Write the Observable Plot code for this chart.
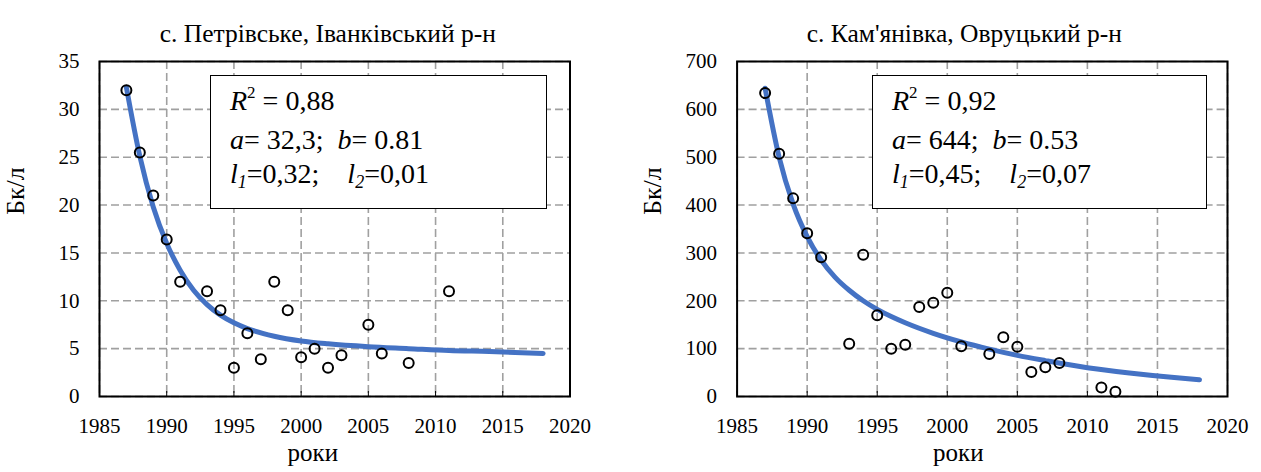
<!DOCTYPE html>
<html>
<head>
<meta charset="utf-8">
<script src="https://cdn.jsdelivr.net/npm/d3@7"></script>
<script src="https://cdn.jsdelivr.net/npm/@observablehq/plot@0.6"></script>
<style>
  html, body { margin: 0; padding: 0; background: #fff; }
  #wrap { position: relative; width: 1261px; height: 472px; overflow: hidden; font-family: "Liberation Serif", "Times New Roman", serif; }
  .chart { position: absolute; top: 0; }
  .chart svg text { font-family: "Liberation Serif", "Times New Roman", serif; }
  .box { position: absolute; top: 75px; height: 134px; box-sizing: border-box; border: 1px solid #000; background: #fff;
         font-family: "Liberation Serif", "Times New Roman", serif; font-size: 28px; line-height: 34.5px; padding-top: 8px; padding-left: 19px; white-space: pre; color: #000; }
  .box i { font-style: italic; }
  .box sup { font-size: 17px; vertical-align: 0; position: relative; top: -12px; }
  .box sub { font-size: 18px; vertical-align: 0; position: relative; top: 5px; font-style: italic; }
</style>
</head>
<body>
<div id="wrap"></div>
<script>
// ---------- data ----------
const xTicks = [1985, 1990, 1995, 2000, 2005, 2010, 2015, 2020];

const titleLeft = "с. Петрівське, Іванківський р-н";
const yTicksLeft = [0, 5, 10, 15, 20, 25, 30, 35];
const yearsLeft = [1987, 1988, 1989, 1990, 1991, 1993, 1994, 1995, 1996, 1997, 1998, 1999, 2000, 2001, 2002, 2003, 2005, 2006, 2008, 2011];
const valuesLeft = [32, 25.5, 21, 16.4, 12, 11, 9, 3, 6.6, 3.9, 12, 9, 4.1, 5, 3, 4.3, 7.5, 4.5, 3.5, 11];
const fitYearsLeft = [1987, 1988, 1989, 1990, 1991, 1992, 1993, 1994, 1995, 1996, 1998, 2000, 2002, 2005, 2008, 2011, 2014, 2018];
const fitValuesLeft = [32.3, 25.1, 19.8, 16.0, 13.2, 11.1, 9.6, 8.5, 7.7, 7.1, 6.3, 5.8, 5.5, 5.2, 5.0, 4.8, 4.7, 4.5];

const titleRight = "с. Кам'янівка, Овруцький р-н";
const yTicksRight = [0, 100, 200, 300, 400, 500, 600, 700];
const yearsRight = [1987, 1988, 1989, 1990, 1991, 1993, 1994, 1995, 1996, 1997, 1998, 1999, 2000, 2001, 2003, 2004, 2005, 2006, 2007, 2008, 2011, 2012];
const valuesRight = [634, 507, 414, 341, 291, 110, 296, 170, 100, 108, 187, 196, 217, 105, 89, 124, 104, 51, 61, 70, 19, 10];
const fitYearsRight = [1987, 1988, 1989, 1990, 1991, 1992, 1993, 1994, 1995, 1996, 1997, 1999, 2001, 2003, 2005, 2007, 2010, 2013, 2016, 2018];
const fitValuesRight = [644, 500, 402, 334, 285, 249, 222, 200, 182, 167, 154, 132, 114, 99, 86, 75, 60, 49, 40, 35];

const xLabel = "роки";
const yLabel = "Бк/л";
const boxLeft = { r2: "0,88", a: "32,3", b: "0.81", l1: "0,32", l2: "0,01" };
const boxRight = { r2: "0,92", a: "644", b: "0.53", l1: "0,45", l2: "0,07" };

// ---------- drawing ----------
const wrap = document.getElementById("wrap");

function makeChart({left, width, marginLeft, marginRight, title, titleDx, xLabelDx, yTicks, years, values, fitYears, fitValues, box, boxLeftPx, boxWidth}) {
  const pts = years.map((y, i) => ({year: y, v: values[i]}));
  const fit = fitYears.map((y, i) => ({year: y, v: fitValues[i]}));
  const chart = Plot.plot({
    width, height: 472,
    marginLeft, marginRight, marginTop: 61, marginBottom: 76,
    style: {fontFamily: "'Liberation Serif', 'Times New Roman', serif", fontSize: "21px", color: "#000", background: "#fff", overflow: "visible"},
    x: {domain: [1985, 2020]},
    y: {domain: [yTicks[0], yTicks[yTicks.length - 1]]},
    marks: [
      Plot.gridX(xTicks, {stroke: "#a0a0a0", strokeOpacity: 1, strokeWidth: 1.6, strokeDasharray: "8,4"}),
      Plot.gridY(yTicks, {stroke: "#a0a0a0", strokeOpacity: 1, strokeWidth: 1.6, strokeDasharray: "8,4"}),
      Plot.line(fit, {x: "year", y: "v", stroke: "#4472C4", strokeWidth: 5, curve: "monotone-x", strokeLinecap: "round"}),
      Plot.dot(pts, {x: "year", y: "v", r: 5, stroke: "#000", strokeWidth: 2, fill: "none"}),
      Plot.axisX({ticks: xTicks, tickSize: -5, tickPadding: 27, tickFormat: d => String(d), label: null, stroke: "#000"}),
      Plot.axisY({ticks: yTicks, tickSize: 0, tickPadding: 20, tickFormat: d => String(d), label: null}),
      Plot.frame({stroke: "#000", strokeWidth: 2}),
      Plot.text([title], {frameAnchor: "top", dy: -38, dx: titleDx, fontSize: 25.5, fill: "#000"}),
      Plot.text([xLabel], {frameAnchor: "bottom", dy: 64, dx: xLabelDx, fontSize: 25, fill: "#000"}),
      Plot.text([yLabel], {frameAnchor: "left", dx: -84, dy: -14, rotate: -90, fontSize: 26, fill: "#000"})
    ]
  });
  const holder = document.createElement("div");
  holder.className = "chart";
  holder.style.left = left + "px";
  holder.appendChild(chart);
  wrap.appendChild(holder);

  const b = document.createElement("div");
  b.className = "box";
  b.style.left = boxLeftPx + "px";
  b.style.width = boxWidth + "px";
  b.innerHTML =
    `<i>R</i><sup>2</sup> = ${box.r2}\n` +
    `<i>a</i>= ${box.a};  <i>b</i>= ${box.b}\n` +
    `<i>l</i><sub>1</sub>=${box.l1};    <i>l</i><sub>2</sub>=${box.l2}`;
  wrap.appendChild(b);
}

makeChart({left: 0, width: 630, marginLeft: 99, marginRight: 60.5, title: titleLeft, titleDx: -7, xLabelDx: -22, yTicks: yTicksLeft,
  years: yearsLeft, values: valuesLeft, fitYears: fitYearsLeft, fitValues: fitValuesLeft,
  box: boxLeft, boxLeftPx: 210, boxWidth: 337});
makeChart({left: 630, width: 631, marginLeft: 106.6, marginRight: 34, title: titleRight, titleDx: -18, xLabelDx: -24, yTicks: yTicksRight,
  years: yearsRight, values: valuesRight, fitYears: fitYearsRight, fitValues: fitValuesRight,
  box: boxRight, boxLeftPx: 872, boxWidth: 335});
</script>
</body>
</html>
